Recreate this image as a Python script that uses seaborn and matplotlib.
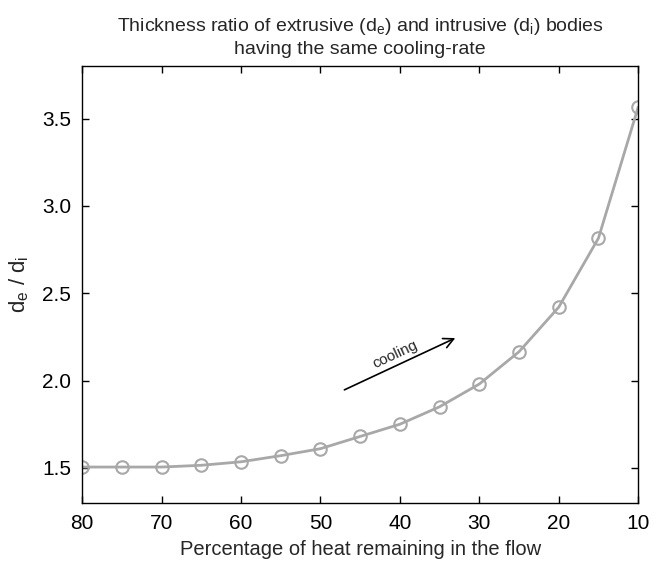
import matplotlib
matplotlib.use("Agg")
import matplotlib.pyplot as plt
import seaborn as sns
import pandas as pd

heat_pct = [80, 75, 70, 65, 60, 55, 50, 45, 40, 35, 30, 25, 20, 15, 10]
ratio = [1.505, 1.505, 1.505, 1.515, 1.535, 1.57, 1.61, 1.68, 1.75, 1.85,
         1.98, 2.165, 2.42, 2.815, 3.565]
x_ticks = [80, 70, 60, 50, 40, 30, 20, 10]
y_ticks = [1.5, 2.0, 2.5, 3.0, 3.5]

sns.set_theme(style="white")
plt.rcParams['font.family'] = ['Liberation Sans', 'DejaVu Sans']
plt.rcParams['mathtext.fontset'] = 'custom'
plt.rcParams['mathtext.rm'] = 'Liberation Sans'
plt.rcParams['mathtext.it'] = 'Liberation Sans:italic'

df = pd.DataFrame({"heat": heat_pct, "ratio": ratio})

fig = plt.figure(figsize=(6.62, 5.65), dpi=100)
ax = fig.add_axes([0.124, 0.110, 0.840, 0.773])

gray = "#a8a8a8"
sns.lineplot(data=df, x="heat", y="ratio", ax=ax, color=gray, linewidth=2,
             marker="o", markersize=9, markerfacecolor="none",
             markeredgecolor=gray, markeredgewidth=1.5, sort=False)

ax.set_xlim(80, 10)
ax.set_ylim(1.3, 3.8)
ax.set_xticks(x_ticks)
ax.set_yticks(y_ticks)
ax.set_yticklabels([f"{v:.1f}" for v in y_ticks])
ax.tick_params(direction="in", length=5, width=1, colors="black",
               labelsize=15, top=True, right=True, bottom=True, left=True, pad=8)
for s in ax.spines.values():
    s.set_color("black")
    s.set_linewidth(1)

ax.set_xlabel("Percentage of heat remaining in the flow", fontsize=14.5, labelpad=5)
ax.set_ylabel(r"d$_\mathrm{e}$ / d$_\mathrm{i}$", fontsize=16, labelpad=8)
ax.set_title("Thickness ratio of extrusive (d$_\\mathrm{e}$) and intrusive (d$_\\mathrm{i}$) bodies\n"
             "having the same cooling-rate", fontsize=14, pad=9, linespacing=1.3)

ax.annotate("", xy=(32.7, 2.25), xytext=(47.3, 1.94),
            arrowprops=dict(arrowstyle="->", color="black", lw=1.2, mutation_scale=18))
ax.text(40.6, 2.15, "cooling", rotation=25, fontsize=11, ha="center", va="center",
        rotation_mode="anchor")

fig.savefig("out.png", dpi=100)
